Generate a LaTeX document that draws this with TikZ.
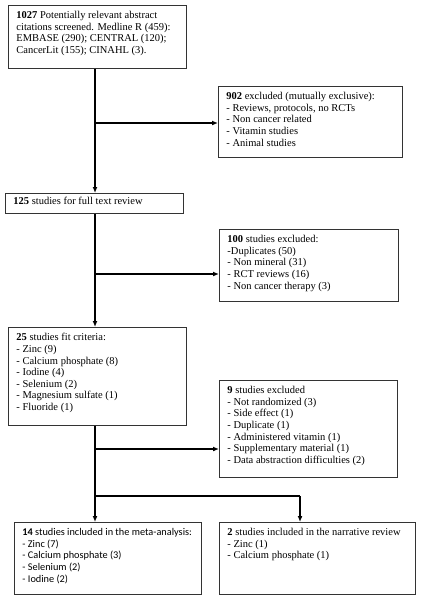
\documentclass[tikz,border=0pt]{standalone}
\usepackage{fontspec}
\setmainfont{Liberation Serif}
\newfontfamily\calib{Carlito}
\usetikzlibrary{arrows.meta}
\newcommand{\boxtxt}[3]{\begin{minipage}[c][#2][t]{#1}\raggedright\setlength{\parindent}{0pt}#3\end{minipage}}
\begin{document}
\begin{tikzpicture}[x=1pt,y=-1pt,
  box/.style={draw=black!80, line width=0.9pt, anchor=north west, inner xsep=8pt, inner ysep=6pt, font=\fontsize{10.5}{11.6}\selectfont},
  conn/.style={line width=1.4pt},
  arr/.style={conn,-{Latex[length=6pt,width=5pt]}}]
\useasboundingbox (0,0) rectangle (421,600);
\node[box] (b1) at (8,5) {\boxtxt{162pt}{51pt}{\textbf{1027} Potentially relevant abstract\\citations screened. Medline R (459):\\EMBASE (290); CENTRAL (120);\\CancerLit (155); CINAHL (3).}};
\node[box] (b2) at (218,86) {\boxtxt{168pt}{59pt}{\textbf{902} excluded (mutually exclusive):\\- Reviews, protocols, no RCTs\\- Non cancer related\\- Vitamin studies\\- Animal studies}};
\node[box, inner ysep=4pt] (b3) at (5,193) {\boxtxt{162pt}{12pt}{\textbf{125} studies for full text review}};
\node[box] (b4) at (219,229) {\boxtxt{163pt}{60pt}{\textbf{100} studies excluded:\\-Duplicates (50)\\- Non mineral (31)\\- RCT reviews (16)\\- Non cancer therapy (3)}};
\node[box] (b5) at (8,327) {\boxtxt{162pt}{86pt}{\textbf{25} studies fit criteria:\\- Zinc (9)\\- Calcium phosphate (8)\\- Iodine (4)\\- Selenium (2)\\- Magnesium sulfate (1)\\- Fluoride (1)}};
\node[box] (b6) at (219,380) {\boxtxt{162pt}{85pt}{\textbf{9} studies excluded\\- Not randomized (3)\\- Side effect (1)\\- Duplicate (1)\\- Administered vitamin (1)\\- Supplementary material (1)\\- Data abstraction difficulties (2)}};
\node[box, font=\calib\fontsize{10.3}{11.6}\selectfont] (b7) at (14,522) {\boxtxt{171pt}{60pt}{\textbf{14} studies included in the meta-analysis:\\- Zinc (7)\\- Calcium phosphate (3)\\- Selenium (2)\\- Iodine (2)}};
\node[box] (b8) at (219,522) {\boxtxt{180pt}{60pt}{\textbf{2} studies included in the narrative review\\- Zinc (1)\\- Calcium phosphate (1)}};
\coordinate (trunk) at (95,0);
\coordinate (j1) at (95,123);
\coordinate (j2) at (95,274);
\coordinate (j3) at (95,449);
\coordinate (j4) at (95,496);
\coordinate (k) at (300,496);
\draw[arr] (b1.south -| trunk) -- (b3.north -| trunk);
\draw[arr] (j1) -- (j1 -| b2.west);
\draw[arr] (b3.south -| trunk) -- (b5.north -| trunk);
\draw[arr] (j2) -- (j2 -| b4.west);
\draw[arr] (b5.south -| trunk) -- (b7.north -| trunk);
\draw[arr] (j3) -- (j3 -| b6.west);
\draw[conn] (j4) -- (k);
\draw[arr] (k) -- (k |- b8.north);
\end{tikzpicture}
\end{document}
